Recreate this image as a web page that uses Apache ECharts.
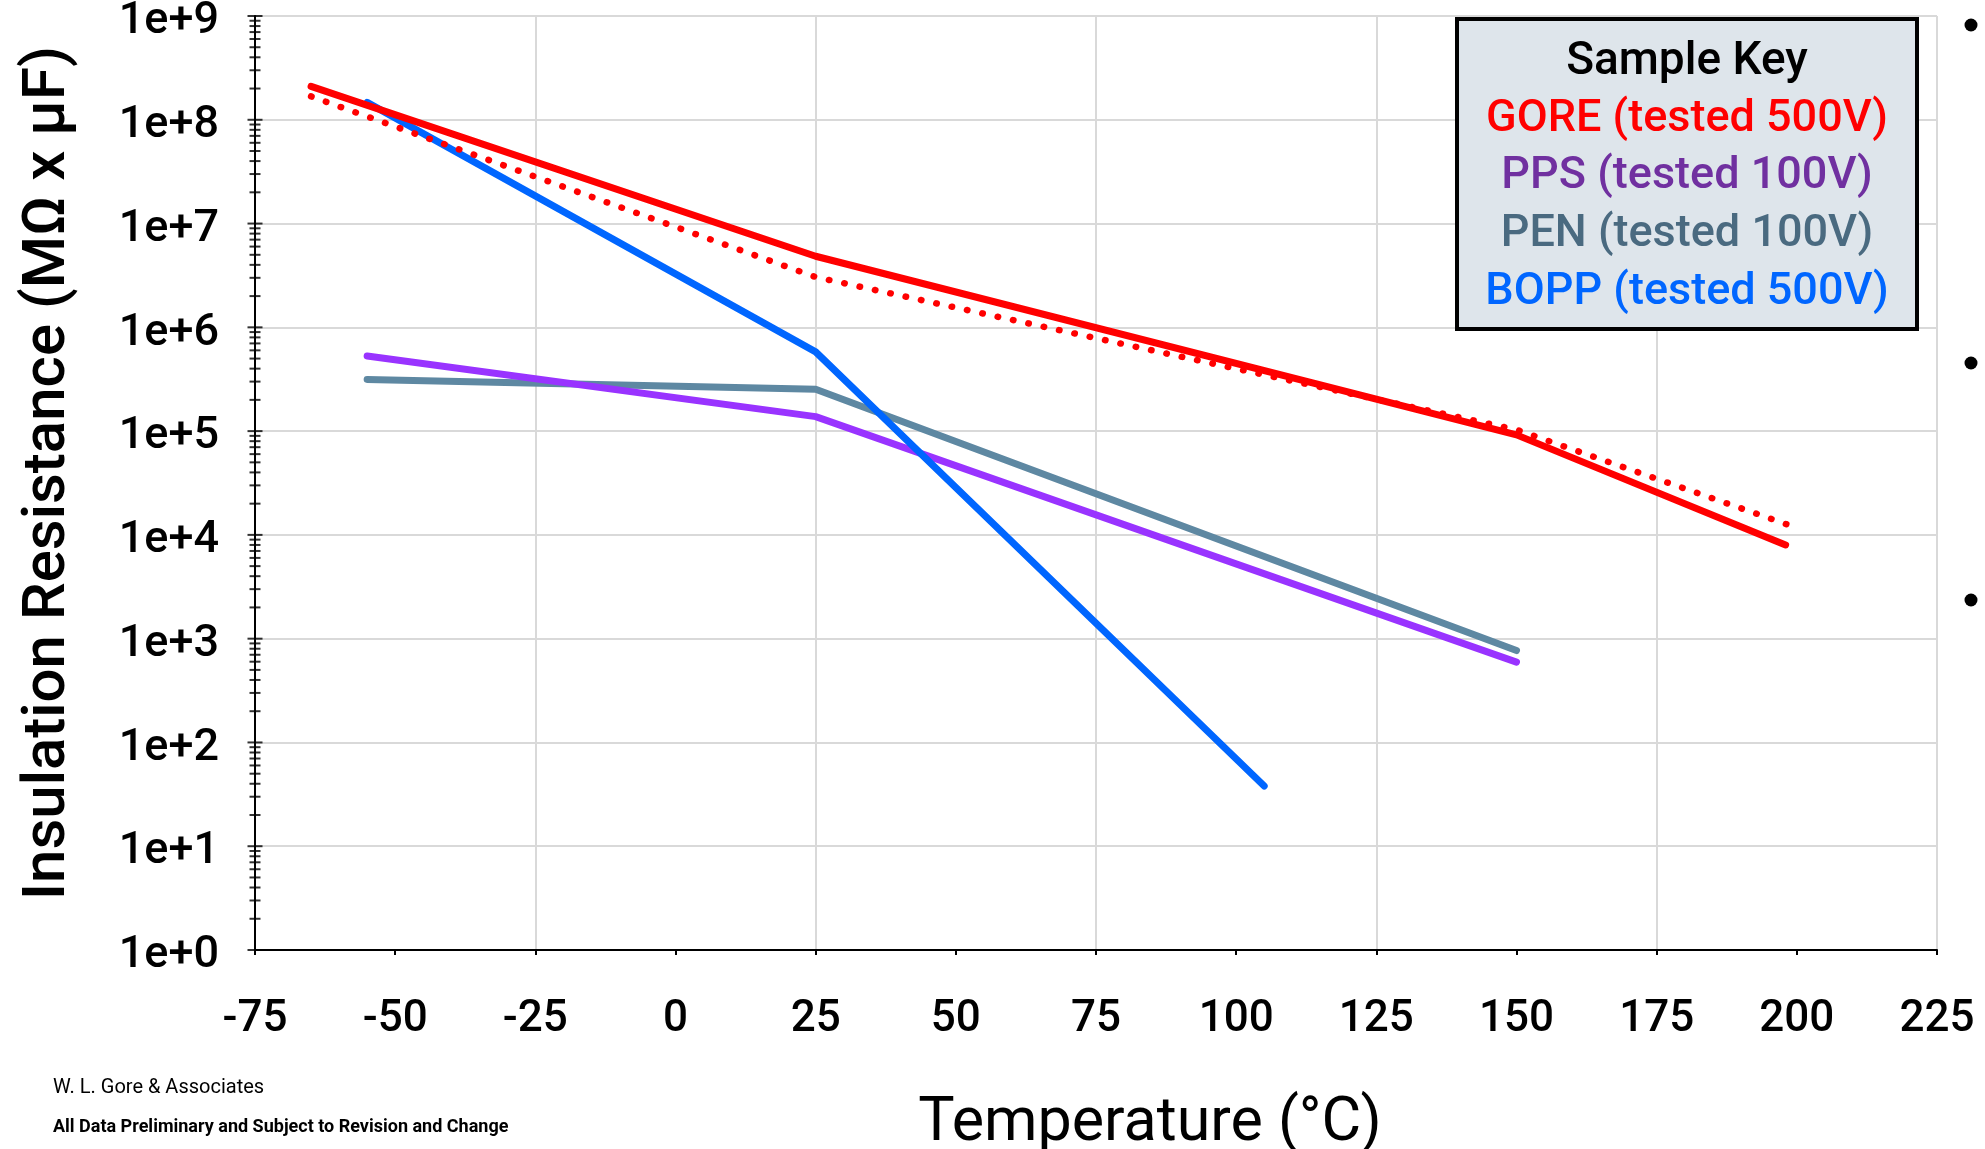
<!DOCTYPE html>
<html>
<head>
<meta charset="utf-8">
<script src="https://cdn.jsdelivr.net/npm/echarts@6/dist/echarts.min.js"></script>
<style>
  html, body { margin: 0; padding: 0; background: #fff; }
  #chart { width: 1985px; height: 1149px; }
</style>
</head>
<body>
<div id="chart"></div>
<script>
const FONT = 'Roboto';

// readings (temperature in °C, insulation resistance in MOhm x uF)
const goreTemp = [-65, 25, 150, 198];
const goreIR = [2.1e8, 4.84e6, 9.2e4, 8.0e3];
const goreFitTemp = [-65, 25, 150, 200];
const goreFitIR = [1.68e8, 3.05e6, 1.03e5, 1.17e4];
const ppsTemp = [-55, 25, 150];
const ppsIR = [5.3e5, 1.38e5, 594];
const penTemp = [-55, 25, 150];
const penIR = [3.15e5, 2.53e5, 768];
const boppTemp = [-55, 25, 105];
const boppIR = [1.47e8, 5.8e5, 38];

const yDecades = [1, 1e1, 1e2, 1e3, 1e4, 1e5, 1e6, 1e7, 1e8, 1e9];
const yTickLabels = ['1e+0', '1e+1', '1e+2', '1e+3', '1e+4', '1e+5', '1e+6', '1e+7', '1e+8', '1e+9'];
const minorSteps = [2, 3, 4, 5, 6, 7, 8, 9];

const keyTitle = 'Sample Key';
const keyLabels = ['GORE (tested 500V)', 'PPS (tested 100V)', 'PEN (tested 100V)', 'BOPP (tested 500V)'];
const keyColors = ['#ff0000', '#7030a0', '#4a6a80', '#0066ff'];

const X_MIN = -75, X_MAX = 225;

function pairs(xs, ys) {
    return xs.map((x, i) => [x, ys[i]]);
}

// log ticks on the y axis cross the axis line, so draw them as marks at x = X_MIN
const majorTicks = yDecades.map(v => [X_MIN, v]);
const minorTicks = [];
yDecades.slice(0, -1).forEach(d => minorSteps.forEach(m => minorTicks.push([X_MIN, d * m])));

function lineSeries(name, xs, ys, color, extra) {
    return Object.assign({
        name,
        type: 'line',
        data: pairs(xs, ys),
        showSymbol: false,
        symbol: 'none',
        silent: true,
        animation: false,
        lineStyle: {color, width: 7, cap: 'round', join: 'round'},
        z: 5
    }, extra || {});
}

const chart = echarts.init(document.getElementById('chart'), null, {renderer: 'canvas'});

const keyLeft = 1457, keyTop = 19, keyW = 460, keyH = 310;
const keyCx = keyLeft + keyW / 2;
const keyRows = [62, 120, 177, 235, 293];

const option = {
    animation: false,
    backgroundColor: '#ffffff',
    grid: {left: 255, top: 16, width: 1682, height: 934, containLabel: false, outerBoundsMode: 'none'},
    xAxis: [{
        type: 'value',
        min: X_MIN,
        max: X_MAX,
        interval: 25,
        position: 'bottom',
        axisLine: {show: true, onZero: false, lineStyle: {color: '#000', width: 2}},
        axisTick: {show: true, length: 5, lineStyle: {color: '#000', width: 2}},
        axisLabel: {
            color: '#000', fontFamily: FONT, fontWeight: 500, fontSize: 44, margin: 48,
            showMinLabel: true, showMaxLabel: true
        },
        splitLine: {show: false},
        name: 'Temperature (°C)',
        nameLocation: 'middle',
        nameGap: 144,
        nameTextStyle: {color: '#000', fontFamily: FONT, fontSize: 61, padding: [0, 0, 0, 108]}
    }, {
        // only carries the vertical grid lines (every 50 from -75)
        type: 'value',
        min: X_MIN,
        max: X_MAX,
        interval: 50,
        position: 'top',
        axisLine: {show: false},
        axisTick: {show: false},
        axisLabel: {show: false},
        splitLine: {show: true, lineStyle: {color: '#d9d9d9', width: 2}}
    }],
    yAxis: {
        type: 'log',
        logBase: 10,
        min: 1,
        max: 1e9,
        splitNumber: 9,
        axisLine: {show: true, onZero: false, lineStyle: {color: '#000', width: 2}},
        axisTick: {show: false},
        axisLabel: {
            margin: 36,
            formatter: v => '{t|' + yTickLabels[Math.round(Math.log10(v))] + '}',
            rich: {
                t: {
                    color: '#000', fontFamily: FONT, fontWeight: 500, fontSize: 45,
                    padding: [12, 0, 0, 0]
                }
            }
        },
        splitLine: {show: true, lineStyle: {color: '#d9d9d9', width: 2}},
        name: 'Insulation Resistance (MΩ x µF)',
        nameLocation: 'middle',
        nameGap: 176,
        nameTextStyle: {color: '#000', fontFamily: FONT, fontWeight: 500, fontSize: 60, padding: [0, 0, 0, 20]}
    },
    series: [
        {
            type: 'scatter', data: majorTicks, symbol: 'rect', symbolSize: [15, 2],
            itemStyle: {color: '#000'}, clip: false, silent: true, z: 6
        },
        {
            type: 'scatter', data: minorTicks, symbol: 'rect', symbolSize: [11, 2],
            itemStyle: {color: '#000'}, clip: false, silent: true, z: 6
        },
        lineSeries('PEN', penTemp, penIR, '#5e88a2'),
        lineSeries('PPS', ppsTemp, ppsIR, '#9933ff'),
        lineSeries('BOPP', boppTemp, boppIR, '#0066ff'),
        lineSeries('GORE fit', goreFitTemp, goreFitIR, '#ff0000', {
            lineStyle: {color: '#ff0000', width: 6.5, cap: 'round', type: [0.5, 15.2]}
        }),
        lineSeries('GORE', goreTemp, goreIR, '#ff0000')
    ],
    graphic: [
        {
            type: 'rect', z: 100,
            shape: {x: keyLeft, y: keyTop, width: keyW, height: keyH},
            style: {fill: '#dee5eb', stroke: '#000', lineWidth: 4}
        },
        {
            type: 'text', z: 101, x: keyCx, y: keyRows[0],
            style: {
                text: keyTitle, fill: '#000', font: `500 46px ${FONT}`,
                align: 'center', verticalAlign: 'middle'
            }
        },
        ...keyLabels.map((t, i) => ({
            type: 'text', z: 101, x: keyCx, y: keyRows[i + 1],
            style: {
                text: t, fill: keyColors[i], font: `500 45px ${FONT}`,
                align: 'center', verticalAlign: 'middle'
            }
        })),
        {
            type: 'text', x: 53, y: 1088,
            style: {text: 'W. L. Gore & Associates', fill: '#000', font: `20px ${FONT}`, verticalAlign: 'middle'}
        },
        {
            type: 'text', x: 53, y: 1127,
            style: {
                text: 'All Data Preliminary and Subject to Revision and Change',
                fill: '#000', font: `bold 18px ${FONT}`, verticalAlign: 'middle'
            }
        },
        // bullet glyphs cut off at the right edge
        {type: 'circle', shape: {cx: 1971, cy: 25, r: 6.5}, style: {fill: '#000'}},
        {type: 'circle', shape: {cx: 1971, cy: 363, r: 6.5}, style: {fill: '#000'}},
        {type: 'circle', shape: {cx: 1971, cy: 600, r: 6.5}, style: {fill: '#000'}}
    ]
};

chart.setOption(option);
</script>
</body>
</html>
